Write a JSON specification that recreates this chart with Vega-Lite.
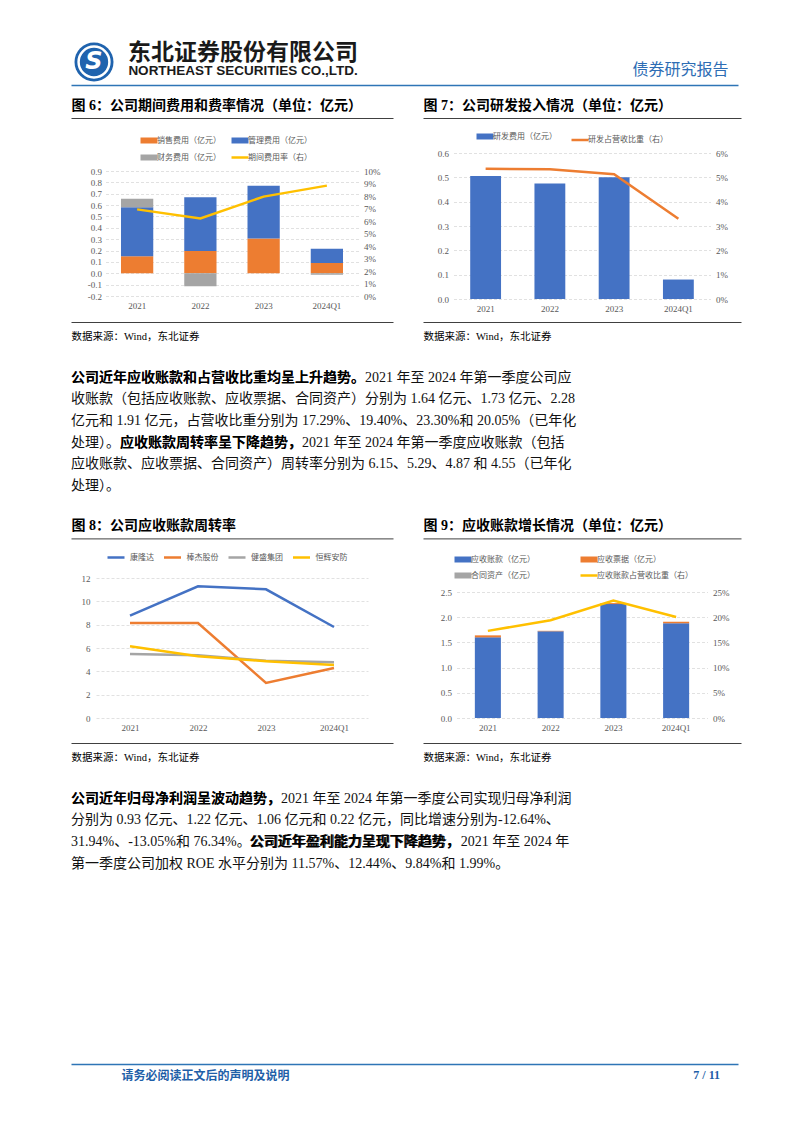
{
  "$schema": "https://vega.github.io/schema/vega-lite/v6.json",
  "background": "#ffffff",
  "padding": {"left": 68, "top": 39, "right": 67, "bottom": 40},
  "autosize": {"type": "pad"},
  "config": {
    "view": {"stroke": null},
    "font": "Liberation Serif, Noto Sans CJK SC",
    "axis": {"labelFont": "Liberation Serif", "labelFontSize": 9, "labelColor": "#595959", "domain": false, "ticks": false, "grid": false, "gridColor": "#D9D9D9", "gridDash": [3, 2], "gridWidth": 0.8},
    "legend": {"labelFont": "Noto Sans CJK SC", "labelFontSize": 8, "labelColor": "#595959", "orient": "none", "symbolType": "stroke", "symbolSize": 289, "labelOffset": 4, "padding": 0}
  },
  "spacing": 0,
  "resolve": {"scale": {"color": "independent", "x": "independent", "y": "independent"}, "legend": {"color": "independent"}},
  "vconcat": [
    {
      "hconcat": [
        {
          "width": 46, "height": 46,
          "data": {"values": [{"glyph": "S"}]},
          "layer": [
            {"mark": {"type": "circle", "size": 1520, "color": "#1F63AE", "opacity": 1}, "encoding": {}},
            {"mark": {"type": "circle", "size": 950, "filled": false, "stroke": "#ffffff", "strokeWidth": 2.5, "opacity": 1}, "encoding": {}},
            {"mark": {"type": "text", "font": "DejaVu Sans", "fontSize": 24, "fontWeight": "bold", "fontStyle": "italic", "color": "#ffffff", "baseline": "middle"}, "encoding": {"text": {"field": "glyph", "type": "nominal"}}}
          ]
        },
        {
          "width": 236, "height": 46,
          "data": {"values": [{"row": "cn", "text": "东北证券股份有限公司"}, {"row": "en", "text": "NORTHEAST SECURITIES CO.,LTD."}]},
          "encoding": {
            "y": {"field": "row", "type": "ordinal", "scale": {"type": "point", "domain": ["cn", "en"], "padding": 0.75}, "axis": null},
            "text": {"field": "text", "type": "nominal"}
          },
          "layer": [
            {"transform": [{"filter": "datum.row == 'cn'"}], "mark": {"type": "text", "font": "Noto Sans CJK SC", "fontSize": 23, "fontWeight": "bold", "color": "#1A1A1A", "baseline": "middle"}},
            {"transform": [{"filter": "datum.row == 'en'"}], "mark": {"type": "text", "font": "Liberation Sans", "fontSize": 13.5, "fontWeight": "bold", "color": "#1A1A1A", "baseline": "middle"}}
          ]
        },
        {
          "width": 253, "height": 46,
          "data": {"values": [{"v": 0}]},
          "mark": {"type": "point", "opacity": 0},
          "encoding": {}
        },
        {
          "width": 101, "height": 46,
          "data": {"values": [{"text": "债券研究报告"}]},
          "mark": {"type": "text", "font": "Noto Sans CJK SC", "fontSize": 16, "color": "#2E6DB4", "baseline": "top", "align": "center"},
          "encoding": {"text": {"field": "text", "type": "nominal"}}
        }
      ],
      "spacing": 8,
      "bounds": "flush",
      "resolve": {"scale": {"color": "independent", "x": "independent", "y": "independent"}, "legend": {"color": "independent"}}
    },
    {
      "width": 667, "height": 11,
      "data": {"values": [{"v": 0}]},
      "mark": {"type": "point", "opacity": 0},
      "encoding": {"x": {"field": "v", "type": "quantitative", "scale": {"domain": [0, 1]}, "axis": {"orient": "top", "domain": true, "domainColor": "#2E75B6", "domainWidth": 1.5, "labels": false, "ticks": false, "grid": false, "title": null}}}
    },
    {
      "hconcat": [
        {
          "vconcat": [
            {
              "width": 322, "height": 22,
              "data": {"values": [{"v": 0}]},
              "mark": {"type": "point", "opacity": 0},
              "encoding": {"x": {"field": "v", "type": "quantitative", "scale": {"domain": [0, 1]}, "axis": {"orient": "bottom", "domain": true, "domainColor": "#404040", "domainWidth": 1, "labels": false, "ticks": false, "grid": false, "title": "图 6：公司期间费用和费率情况（单位：亿元）", "titleX": 0, "titleY": -6, "titleAlign": "left", "titleAnchor": "start", "titleBaseline": "bottom", "titleFont": "Liberation Serif, Noto Sans CJK SC", "titleFontSize": 14, "titleFontWeight": "bold", "titleColor": "#000000"}}}
            },
            {
              "width": 253, "height": 178,
              "layer": [
                {
                  "data": {"values": [
                    {"year": "2021", "series": "销售费用（亿元）", "value": 0.15},
                    {"year": "2022", "series": "销售费用（亿元）", "value": 0.195},
                    {"year": "2023", "series": "销售费用（亿元）", "value": 0.305},
                    {"year": "2024Q1", "series": "销售费用（亿元）", "value": 0.09},
                    {"year": "2021", "series": "管理费用（亿元）", "value": 0.43},
                    {"year": "2022", "series": "管理费用（亿元）", "value": 0.475},
                    {"year": "2023", "series": "管理费用（亿元）", "value": 0.465},
                    {"year": "2024Q1", "series": "管理费用（亿元）", "value": 0.125},
                    {"year": "2021", "series": "财务费用（亿元）", "value": 0.075},
                    {"year": "2022", "series": "财务费用（亿元）", "value": -0.115},
                    {"year": "2023", "series": "财务费用（亿元）", "value": 0.0},
                    {"year": "2024Q1", "series": "财务费用（亿元）", "value": -0.012}
                  ]},
                  "transform": [{"window": [{"op": "row_number", "as": "stack_rank"}]}],
                  "mark": {"type": "bar"},
                  "encoding": {
                    "x": {"field": "year", "type": "nominal", "sort": null, "scale": {"paddingInner": 0.49, "paddingOuter": 0.245}, "axis": {"title": null, "labelAngle": 0, "labelPadding": 5}},
                    "y": {"field": "value", "type": "quantitative", "stack": "zero", "scale": {"domain": [-0.2, 1.3664], "nice": false, "zero": false}, "axis": {"title": null, "orient": "left", "grid": true, "values": [-0.2, -0.1, 0, 0.1, 0.2, 0.3, 0.4, 0.5, 0.6, 0.7, 0.8, 0.9], "labelExpr": "datum.value < 0 ? '-' + format(-datum.value, '.1f') : format(datum.value, '.1f')", "labelPadding": 4}},
                    "color": {"field": "series", "type": "nominal", "scale": {"domain": ["销售费用（亿元）", "管理费用（亿元）", "财务费用（亿元）", "期间费用率（右）"], "range": ["#ED7D31", "#4472C4", "#A5A5A5", "#FFC000"]}, "legend": {"title": null, "orient": "none", "legendX": 39.5, "legendY": 18.5, "direction": "horizontal", "columns": 2, "columnPadding": -2, "rowPadding": -7, "encode": {"symbols": {"update": {"fill": {"value": "transparent"}, "stroke": {"signal": "{'销售费用（亿元）':'#ED7D31','管理费用（亿元）':'#4472C4','财务费用（亿元）':'#A5A5A5','期间费用率（右）':'#FFC000'}[datum.value]"}, "strokeWidth": {"signal": "datum.value == '期间费用率（右）' ? 2.5 : 6"}}}}}},
                    "order": {"field": "stack_rank", "type": "quantitative"}
                  }
                },
                {
                  "data": {"values": [
                    {"year": "2021", "series": "期间费用率（右）", "rate": 0.0693},
                    {"year": "2022", "series": "期间费用率（右）", "rate": 0.0621},
                    {"year": "2023", "series": "期间费用率（右）", "rate": 0.0795},
                    {"year": "2024Q1", "series": "期间费用率（右）", "rate": 0.0883}
                  ]},
                  "mark": {"type": "line", "strokeWidth": 2.5},
                  "encoding": {
                    "x": {"field": "year", "type": "nominal", "sort": null, "bandPosition": 0.5},
                    "y": {"field": "rate", "type": "quantitative", "scale": {"domain": [0, 0.1424], "nice": false}, "axis": {"title": null, "orient": "right", "grid": false, "values": [0, 0.01, 0.02, 0.03, 0.04, 0.05, 0.06, 0.07, 0.08, 0.09, 0.1], "format": ".0%", "labelPadding": 5}},
                    "color": {"field": "series", "type": "nominal"}
                  }
                }
              ],
              "resolve": {"scale": {"y": "independent"}}
            },
            {
              "width": 322, "height": 71,
              "data": {"values": [{"v": 0}]},
              "mark": {"type": "point", "opacity": 0},
              "encoding": {"x": {"field": "v", "type": "quantitative", "scale": {"domain": [0, 1]}, "axis": {"orient": "top", "offset": -26, "domain": true, "domainColor": "#404040", "domainWidth": 1, "labels": false, "ticks": false, "grid": false, "title": "数据来源：Wind，东北证券", "titleX": 0, "titleY": 9, "titleAlign": "left", "titleAnchor": "start", "titleBaseline": "top", "titleFont": "Liberation Serif, Noto Sans CJK SC", "titleFontSize": 10.5, "titleFontWeight": "normal", "titleColor": "#000000"}}}
            }
          ],
          "spacing": 0, "center": true, "bounds": "flush",
          "resolve": {"scale": {"color": "independent", "x": "independent", "y": "independent"}, "legend": {"color": "independent"}}
        },
        {
          "vconcat": [
            {
              "width": 318, "height": 22,
              "data": {"values": [{"v": 0}]},
              "mark": {"type": "point", "opacity": 0},
              "encoding": {"x": {"field": "v", "type": "quantitative", "scale": {"domain": [0, 1]}, "axis": {"orient": "bottom", "domain": true, "domainColor": "#404040", "domainWidth": 1, "labels": false, "ticks": false, "grid": false, "title": "图 7：公司研发投入情况（单位：亿元）", "titleX": 0, "titleY": -6, "titleAlign": "left", "titleAnchor": "start", "titleBaseline": "bottom", "titleFont": "Liberation Serif, Noto Sans CJK SC", "titleFontSize": 14, "titleFontWeight": "bold", "titleColor": "#000000"}}}
            },
            {
              "width": 257, "height": 181,
              "layer": [
                {
                  "data": {"values": [
                    {"year": "2021", "series": "研发费用（亿元）", "value": 0.505},
                    {"year": "2022", "series": "研发费用（亿元）", "value": 0.475},
                    {"year": "2023", "series": "研发费用（亿元）", "value": 0.5},
                    {"year": "2024Q1", "series": "研发费用（亿元）", "value": 0.08}
                  ]},
                  "mark": {"type": "bar"},
                  "encoding": {
                    "x": {"field": "year", "type": "nominal", "sort": null, "scale": {"paddingInner": 0.52, "paddingOuter": 0.26}, "axis": {"title": null, "labelAngle": 0, "labelPadding": 5}},
                    "y": {"field": "value", "type": "quantitative", "scale": {"domain": [0, 0.74384], "nice": false}, "axis": {"title": null, "orient": "left", "grid": true, "values": [0, 0.1, 0.2, 0.3, 0.4, 0.5, 0.6], "format": ".1f", "labelPadding": 5}},
                    "color": {"field": "series", "type": "nominal", "scale": {"domain": ["研发费用（亿元）", "研发占营收比重（右）"], "range": ["#4472C4", "#ED7D31"]}, "legend": {"title": null, "orient": "none", "legendX": 27.5, "legendY": 14.5, "direction": "horizontal", "columns": 2, "columnPadding": 9, "encode": {"symbols": {"update": {"fill": {"value": "transparent"}, "stroke": {"signal": "datum.value == '研发费用（亿元）' ? '#4472C4' : '#ED7D31'"}, "strokeWidth": {"signal": "datum.value == '研发费用（亿元）' ? 6 : 2.5"}}}}}}
                  }
                },
                {
                  "data": {"values": [
                    {"year": "2021", "series": "研发占营收比重（右）", "rate": 0.0535},
                    {"year": "2022", "series": "研发占营收比重（右）", "rate": 0.0533},
                    {"year": "2023", "series": "研发占营收比重（右）", "rate": 0.0513},
                    {"year": "2024Q1", "series": "研发占营收比重（右）", "rate": 0.033}
                  ]},
                  "mark": {"type": "line", "strokeWidth": 2.5},
                  "encoding": {
                    "x": {"field": "year", "type": "nominal", "sort": null, "bandPosition": 0.5},
                    "y": {"field": "rate", "type": "quantitative", "scale": {"domain": [0, 0.074384], "nice": false}, "axis": {"title": null, "orient": "right", "grid": false, "values": [0, 0.01, 0.02, 0.03, 0.04, 0.05, 0.06], "format": ".0%", "labelPadding": 5}},
                    "color": {"field": "series", "type": "nominal"}
                  }
                }
              ],
              "resolve": {"scale": {"y": "independent"}}
            },
            {
              "width": 318, "height": 68,
              "data": {"values": [{"v": 0}]},
              "mark": {"type": "point", "opacity": 0},
              "encoding": {"x": {"field": "v", "type": "quantitative", "scale": {"domain": [0, 1]}, "axis": {"orient": "top", "offset": -23, "domain": true, "domainColor": "#404040", "domainWidth": 1, "labels": false, "ticks": false, "grid": false, "title": "数据来源：Wind，东北证券", "titleX": 0, "titleY": 9, "titleAlign": "left", "titleAnchor": "start", "titleBaseline": "top", "titleFont": "Liberation Serif, Noto Sans CJK SC", "titleFontSize": 10.5, "titleFontWeight": "normal", "titleColor": "#000000"}}}
            }
          ],
          "spacing": 0, "center": true, "bounds": "flush",
          "resolve": {"scale": {"color": "independent", "x": "independent", "y": "independent"}, "legend": {"color": "independent"}}
        }
      ],
      "spacing": 27,
      "resolve": {"scale": {"color": "independent", "x": "independent", "y": "independent"}, "legend": {"color": "independent"}}
    },
    {
      "width": 512, "height": 129.6,
      "data": {"values": [
        {"line": 1, "text": "公司近年应收账款和占营收比重均呈上升趋势。2021 年至 2024 年第一季度公司应", "bold": "公司近年应收账款和占营收比重均呈上升趋势。"},
        {"line": 2, "text": "收账款（包括应收账款、应收票据、合同资产）分别为 1.64 亿元、1.73 亿元、2.28", "bold": ""},
        {"line": 3, "text": "亿元和 1.91 亿元，占营收比重分别为 17.29%、19.40%、23.30%和 20.05%（已年化", "bold": ""},
        {"line": 4, "text": "处理）。应收账款周转率呈下降趋势，2021 年至 2024 年第一季度应收账款（包括", "bold": "\u200b\u3000\u3000\u3000\u2002应收账款周转率呈下降趋势，"},
        {"line": 5, "text": "应收账款、应收票据、合同资产）周转率分别为 6.15、5.29、4.87 和 4.55（已年化", "bold": ""},
        {"line": 6, "text": "处理）。", "bold": ""}
      ]},
      "encoding": {
        "x": {"datum": 0, "type": "quantitative", "scale": {"domain": [0, 1]}, "axis": null},
        "y": {"field": "line", "type": "quantitative", "scale": {"domain": [0.5, 6.5], "reverse": true, "nice": false, "zero": false}, "axis": null}
      },
      "layer": [
        {"mark": {"type": "text", "align": "left", "baseline": "middle", "font": "Liberation Serif, Noto Sans CJK SC", "fontSize": 14, "color": "#111111"}, "encoding": {"text": {"field": "text", "type": "nominal"}}},
        {"mark": {"type": "text", "align": "left", "baseline": "middle", "font": "Liberation Serif, Noto Sans CJK SC", "fontSize": 14, "fontWeight": "bold", "color": "#000000"}, "encoding": {"text": {"field": "bold", "type": "nominal"}}}
      ]
    },
    {
      "hconcat": [
        {
          "vconcat": [
            {
              "width": 322, "height": 41.4,
              "data": {"values": [{"v": 0}]},
              "mark": {"type": "point", "opacity": 0},
              "encoding": {"x": {"field": "v", "type": "quantitative", "scale": {"domain": [0, 1]}, "axis": {"orient": "bottom", "domain": true, "domainColor": "#404040", "domainWidth": 1, "labels": false, "ticks": false, "grid": false, "title": "图 8：公司应收账款周转率", "titleX": 0, "titleY": -6, "titleAlign": "left", "titleAnchor": "start", "titleBaseline": "bottom", "titleFont": "Liberation Serif, Noto Sans CJK SC", "titleFontSize": 14, "titleFontWeight": "bold", "titleColor": "#000000"}}}
            },
            {
              "width": 272, "height": 179,
              "data": {"values": [
                {"year": "2021", "company": "康隆达", "value": 8.77},
                {"year": "2022", "company": "康隆达", "value": 11.29},
                {"year": "2023", "company": "康隆达", "value": 11.03},
                {"year": "2024Q1", "company": "康隆达", "value": 7.8},
                {"year": "2021", "company": "棒杰股份", "value": 8.14},
                {"year": "2022", "company": "棒杰股份", "value": 8.14},
                {"year": "2023", "company": "棒杰股份", "value": 3.0},
                {"year": "2024Q1", "company": "棒杰股份", "value": 4.29},
                {"year": "2021", "company": "健盛集团", "value": 5.49},
                {"year": "2022", "company": "健盛集团", "value": 5.38},
                {"year": "2023", "company": "健盛集团", "value": 4.91},
                {"year": "2024Q1", "company": "健盛集团", "value": 4.77},
                {"year": "2021", "company": "恒辉安防", "value": 6.15},
                {"year": "2022", "company": "恒辉安防", "value": 5.29},
                {"year": "2023", "company": "恒辉安防", "value": 4.87},
                {"year": "2024Q1", "company": "恒辉安防", "value": 4.55}
              ]},
              "mark": {"type": "line", "strokeWidth": 2.5},
              "encoding": {
                "x": {"field": "year", "type": "ordinal", "sort": null, "scale": {"type": "point", "padding": 0.5}, "axis": {"title": null, "labelAngle": 0, "labelPadding": 5}},
                "y": {"field": "value", "type": "quantitative", "scale": {"domain": [0, 15.343], "nice": false}, "axis": {"title": null, "grid": true, "values": [0, 2, 4, 6, 8, 10, 12], "format": "d", "labelPadding": 6}},
                "color": {"field": "company", "type": "nominal", "sort": null, "scale": {"domain": ["康隆达", "棒杰股份", "健盛集团", "恒辉安防"], "range": ["#4472C4", "#ED7D31", "#A5A5A5", "#FFC000"]}, "legend": {"title": null, "orient": "none", "legendX": 10, "legendY": 8.5, "direction": "horizontal", "columns": 4, "columnPadding": 4.5, "symbolStrokeWidth": 2.5}}
              }
            },
            {
              "width": 322, "height": 69.2,
              "data": {"values": [{"v": 0}]},
              "mark": {"type": "point", "opacity": 0},
              "encoding": {"x": {"field": "v", "type": "quantitative", "scale": {"domain": [0, 1]}, "axis": {"orient": "top", "offset": -25, "domain": true, "domainColor": "#404040", "domainWidth": 1, "labels": false, "ticks": false, "grid": false, "title": "数据来源：Wind，东北证券", "titleX": 0, "titleY": 9, "titleAlign": "left", "titleAnchor": "start", "titleBaseline": "top", "titleFont": "Liberation Serif, Noto Sans CJK SC", "titleFontSize": 10.5, "titleFontWeight": "normal", "titleColor": "#000000"}}}
            }
          ],
          "spacing": 0, "center": true, "bounds": "flush",
          "resolve": {"scale": {"color": "independent", "x": "independent", "y": "independent"}, "legend": {"color": "independent"}}
        },
        {
          "vconcat": [
            {
              "width": 318, "height": 41.4,
              "data": {"values": [{"v": 0}]},
              "mark": {"type": "point", "opacity": 0},
              "encoding": {"x": {"field": "v", "type": "quantitative", "scale": {"domain": [0, 1]}, "axis": {"orient": "bottom", "domain": true, "domainColor": "#404040", "domainWidth": 1, "labels": false, "ticks": false, "grid": false, "title": "图 9：应收账款增长情况（单位：亿元）", "titleX": 0, "titleY": -6, "titleAlign": "left", "titleAnchor": "start", "titleBaseline": "bottom", "titleFont": "Liberation Serif, Noto Sans CJK SC", "titleFontSize": 14, "titleFontWeight": "bold", "titleColor": "#000000"}}}
            },
            {
              "width": 251, "height": 179,
              "layer": [
                {
                  "data": {"values": [
                    {"year": "2021", "series": "应收账款（亿元）", "value": 1.6},
                    {"year": "2022", "series": "应收账款（亿元）", "value": 1.72},
                    {"year": "2023", "series": "应收账款（亿元）", "value": 2.26},
                    {"year": "2024Q1", "series": "应收账款（亿元）", "value": 1.88},
                    {"year": "2021", "series": "应收票据（亿元）", "value": 0.04},
                    {"year": "2022", "series": "应收票据（亿元）", "value": 0.01},
                    {"year": "2023", "series": "应收票据（亿元）", "value": 0.02},
                    {"year": "2024Q1", "series": "应收票据（亿元）", "value": 0.03},
                    {"year": "2021", "series": "合同资产（亿元）", "value": 0.0},
                    {"year": "2022", "series": "合同资产（亿元）", "value": 0.0},
                    {"year": "2023", "series": "合同资产（亿元）", "value": 0.0},
                    {"year": "2024Q1", "series": "合同资产（亿元）", "value": 0.0}
                  ]},
                  "transform": [{"window": [{"op": "row_number", "as": "stack_rank"}]}],
                  "mark": {"type": "bar"},
                  "encoding": {
                    "x": {"field": "year", "type": "nominal", "sort": null, "scale": {"paddingInner": 0.585, "paddingOuter": 0.2925}, "axis": {"title": null, "labelAngle": 0, "labelPadding": 5}},
                    "y": {"field": "value", "type": "quantitative", "stack": "zero", "scale": {"domain": [0, 3.5516], "nice": false}, "axis": {"title": null, "orient": "left", "grid": true, "values": [0, 0.5, 1, 1.5, 2, 2.5], "format": ".1f", "labelPadding": 5}},
                    "color": {"field": "series", "type": "nominal", "scale": {"domain": ["应收账款（亿元）", "应收票据（亿元）", "合同资产（亿元）", "应收账款占营收比重（右）"], "range": ["#4472C4", "#ED7D31", "#A5A5A5", "#FFC000"]}, "legend": {"title": null, "orient": "none", "legendX": 2.5, "legendY": 16.5, "direction": "horizontal", "columns": 2, "columnPadding": 33, "rowPadding": -10, "encode": {"symbols": {"update": {"fill": {"value": "transparent"}, "stroke": {"signal": "{'应收账款（亿元）':'#4472C4','应收票据（亿元）':'#ED7D31','合同资产（亿元）':'#A5A5A5','应收账款占营收比重（右）':'#FFC000'}[datum.value]"}, "strokeWidth": {"signal": "datum.value == '应收账款占营收比重（右）' ? 2.5 : 6"}}}}}},
                    "order": {"field": "stack_rank", "type": "quantitative"}
                  }
                },
                {
                  "data": {"values": [
                    {"year": "2021", "series": "应收账款占营收比重（右）", "rate": 0.1729},
                    {"year": "2022", "series": "应收账款占营收比重（右）", "rate": 0.194},
                    {"year": "2023", "series": "应收账款占营收比重（右）", "rate": 0.233},
                    {"year": "2024Q1", "series": "应收账款占营收比重（右）", "rate": 0.2005}
                  ]},
                  "mark": {"type": "line", "strokeWidth": 2.5},
                  "encoding": {
                    "x": {"field": "year", "type": "nominal", "sort": null, "bandPosition": 0.5},
                    "y": {"field": "rate", "type": "quantitative", "scale": {"domain": [0, 0.35516], "nice": false}, "axis": {"title": null, "orient": "right", "grid": false, "values": [0, 0.05, 0.1, 0.15, 0.2, 0.25], "format": ".0%", "labelPadding": 5}},
                    "color": {"field": "series", "type": "nominal"}
                  }
                }
              ],
              "resolve": {"scale": {"y": "independent"}}
            },
            {
              "width": 318, "height": 69.2,
              "data": {"values": [{"v": 0}]},
              "mark": {"type": "point", "opacity": 0},
              "encoding": {"x": {"field": "v", "type": "quantitative", "scale": {"domain": [0, 1]}, "axis": {"orient": "top", "offset": -25, "domain": true, "domainColor": "#404040", "domainWidth": 1, "labels": false, "ticks": false, "grid": false, "title": "数据来源：Wind，东北证券", "titleX": 0, "titleY": 9, "titleAlign": "left", "titleAnchor": "start", "titleBaseline": "top", "titleFont": "Liberation Serif, Noto Sans CJK SC", "titleFontSize": 10.5, "titleFontWeight": "normal", "titleColor": "#000000"}}}
            }
          ],
          "spacing": 0, "center": true, "bounds": "flush",
          "resolve": {"scale": {"color": "independent", "x": "independent", "y": "independent"}, "legend": {"color": "independent"}}
        }
      ],
      "spacing": 27,
      "resolve": {"scale": {"color": "independent", "x": "independent", "y": "independent"}, "legend": {"color": "independent"}}
    },
    {
      "width": 512, "height": 275.8,
      "data": {"values": [
        {"line": 1, "text": "公司近年归母净利润呈波动趋势，2021 年至 2024 年第一季度公司实现归母净利润", "bold": "公司近年归母净利润呈波动趋势，"},
        {"line": 2, "text": "分别为 0.93 亿元、1.22 亿元、1.06 亿元和 0.22 亿元，同比增速分别为-12.64%、", "bold": ""},
        {"line": 3, "text": "31.94%、-13.05%和 76.34%。公司近年盈利能力呈现下降趋势，2021 年至 2024 年", "bold": "\u200b\u3000\u3000\u3000\u3000\u3000\u3000\u3000\u3000\u3000\u3000\u3000\u3000\u00a0\u00a0\u00a0公司近年盈利能力呈现下降趋势，"},
        {"line": 4, "text": "第一季度公司加权 ROE 水平分别为 11.57%、12.44%、9.84%和 1.99%。", "bold": ""}
      ]},
      "encoding": {
        "x": {"datum": 0, "type": "quantitative", "scale": {"domain": [0, 1]}, "axis": null},
        "y": {"field": "line", "type": "quantitative", "scale": {"domain": [0.5, 13.269], "reverse": true, "nice": false, "zero": false}, "axis": null}
      },
      "layer": [
        {"mark": {"type": "text", "align": "left", "baseline": "middle", "font": "Liberation Serif, Noto Sans CJK SC", "fontSize": 14, "color": "#111111"}, "encoding": {"text": {"field": "text", "type": "nominal"}}},
        {"mark": {"type": "text", "align": "left", "baseline": "middle", "font": "Liberation Serif, Noto Sans CJK SC", "fontSize": 14, "fontWeight": "bold", "color": "#000000"}, "encoding": {"text": {"field": "bold", "type": "nominal"}}}
      ]
    },
    {
      "width": 667, "height": 24,
      "title": {"text": "7 / 11", "orient": "bottom", "anchor": "end", "frame": "group", "dx": -18, "offset": -18, "baseline": "top", "font": "Liberation Serif", "fontSize": 12, "fontWeight": "bold", "color": "#1F5FA8"},
      "data": {"values": [{"v": 0}]},
      "mark": {"type": "point", "opacity": 0},
      "encoding": {"x": {"field": "v", "type": "quantitative", "scale": {"domain": [0, 1]}, "axis": {"orient": "top", "domain": true, "domainColor": "#2E75B6", "domainWidth": 1.5, "labels": false, "ticks": false, "grid": false, "title": "请务必阅读正文后的声明及说明", "titleX": 50, "titleY": 6, "titleAlign": "left", "titleBaseline": "top", "titleFont": "Noto Sans CJK SC", "titleFontSize": 12, "titleFontWeight": "bold", "titleColor": "#1F5FA8"}}}
    }
  ]
}
